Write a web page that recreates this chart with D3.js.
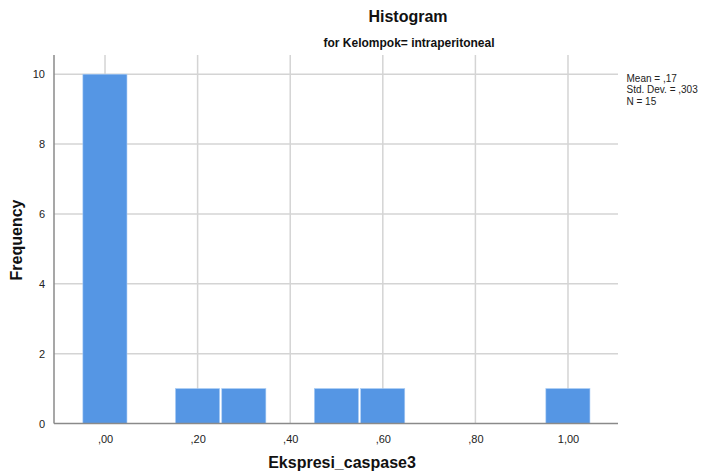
<!DOCTYPE html>
<html>
<head>
<meta charset="utf-8">
<script src="https://cdn.jsdelivr.net/npm/d3@7"></script>
<style>
  html, body { margin: 0; padding: 0; background: #fff; }
  svg { display: block; font-family: "Liberation Sans", Arial, sans-serif; }
</style>
</head>
<body>
<svg id="chart" width="705" height="476"></svg>
<script>
// Histogram of Ekspresi_caspase3, group intraperitoneal
const binCenters = [0.0, 0.2, 0.3, 0.5, 0.6, 1.0];
const binCounts  = [10, 1, 1, 1, 1, 1];
const binWidth = 0.1;
const xTicks = [0, 0.2, 0.4, 0.6, 0.8, 1.0];
const xTickLabels = [",00", ",20", ",40", ",60", ",80", "1,00"];
const yTicks = [0, 2, 4, 6, 8, 10];
const statLines = ["Mean = ,17", "Std. Dev. = ,303", "N = 15"];

(function draw() {
  const svg = d3.select("#chart");
  const pLeft = 54, pRight = 618, pTop = 55, pBottom = 423.5;

  const x = d3.scaleLinear().domain([-0.1102, 1.108]).range([pLeft, pRight]);
  const y = d3.scaleLinear().domain([0, 10.55]).range([pBottom, pTop]);

  // grid
  const grid = svg.append("g").attr("stroke", "#d4d4d4").attr("stroke-width", 1.5);
  grid.selectAll("line.v").data(xTicks).join("line").attr("class", "v")
    .attr("x1", d => x(d)).attr("x2", d => x(d))
    .attr("y1", pTop).attr("y2", pBottom);
  grid.selectAll("line.h").data(yTicks.filter(d => d > 0)).join("line").attr("class", "h")
    .attr("x1", pLeft).attr("x2", pRight)
    .attr("y1", d => y(d)).attr("y2", d => y(d));

  // bars
  svg.append("g").selectAll("rect").data(binCenters).join("rect")
    .attr("x", d => x(d - binWidth / 2) + 1)
    .attr("width", () => x(binWidth) - x(0) - 2.2)
    .attr("y", (d, i) => y(binCounts[i]))
    .attr("height", (d, i) => y(0) - y(binCounts[i]))
    .attr("fill", "#5596e4")
    .attr("stroke", "#a9ccf5")
    .attr("stroke-width", 0.6);

  // axes
  const xAxis = d3.axisBottom(x).tickValues(xTicks)
    .tickFormat((d, i) => xTickLabels[i]).tickSize(0).tickPadding(12);
  const yAxis = d3.axisLeft(y).tickValues(yTicks).tickSize(0).tickPadding(9);

  const gx = svg.append("g").attr("transform", `translate(0,${pBottom})`).call(xAxis);
  gx.select(".domain").attr("d", `M${pLeft},0H${pRight}`);
  const gy = svg.append("g").attr("transform", `translate(${pLeft},0)`).call(yAxis);
  gy.select(".domain").attr("d", `M0,${pTop}V${pBottom}`);

  [gx, gy].forEach(g => {
    g.select(".domain").attr("stroke", "#8a8a8a").attr("stroke-width", 1.5);
    g.selectAll(".tick text").attr("fill", "#222").style("font-size", "11px")
      .style("font-family", "'Liberation Sans', Arial, sans-serif");
  });

  // titles
  svg.append("text").attr("x", 408).attr("y", 22).attr("text-anchor", "middle")
    .style("font-size", "16px").style("font-weight", "bold").attr("fill", "#111")
    .text("Histogram");
  svg.append("text").attr("x", 409).attr("y", 47).attr("text-anchor", "middle")
    .style("font-size", "12px").style("font-weight", "bold").attr("fill", "#111")
    .text("for Kelompok= intraperitoneal");

  svg.append("text").attr("x", 342).attr("y", 468).attr("text-anchor", "middle")
    .style("font-size", "16px").style("font-weight", "bold").attr("fill", "#111")
    .text("Ekspresi_caspase3");
  svg.append("text").attr("transform", "translate(22,240) rotate(-90)")
    .attr("text-anchor", "middle")
    .style("font-size", "16px").style("font-weight", "bold").attr("fill", "#111")
    .text("Frequency");

  // summary statistics
  svg.append("g").selectAll("text").data(statLines).join("text")
    .attr("x", 626.5).attr("y", (d, i) => 81.5 + i * 11.5)
    .style("font-size", "10px").attr("fill", "#222")
    .text(d => d);
})();
</script>
</body>
</html>
